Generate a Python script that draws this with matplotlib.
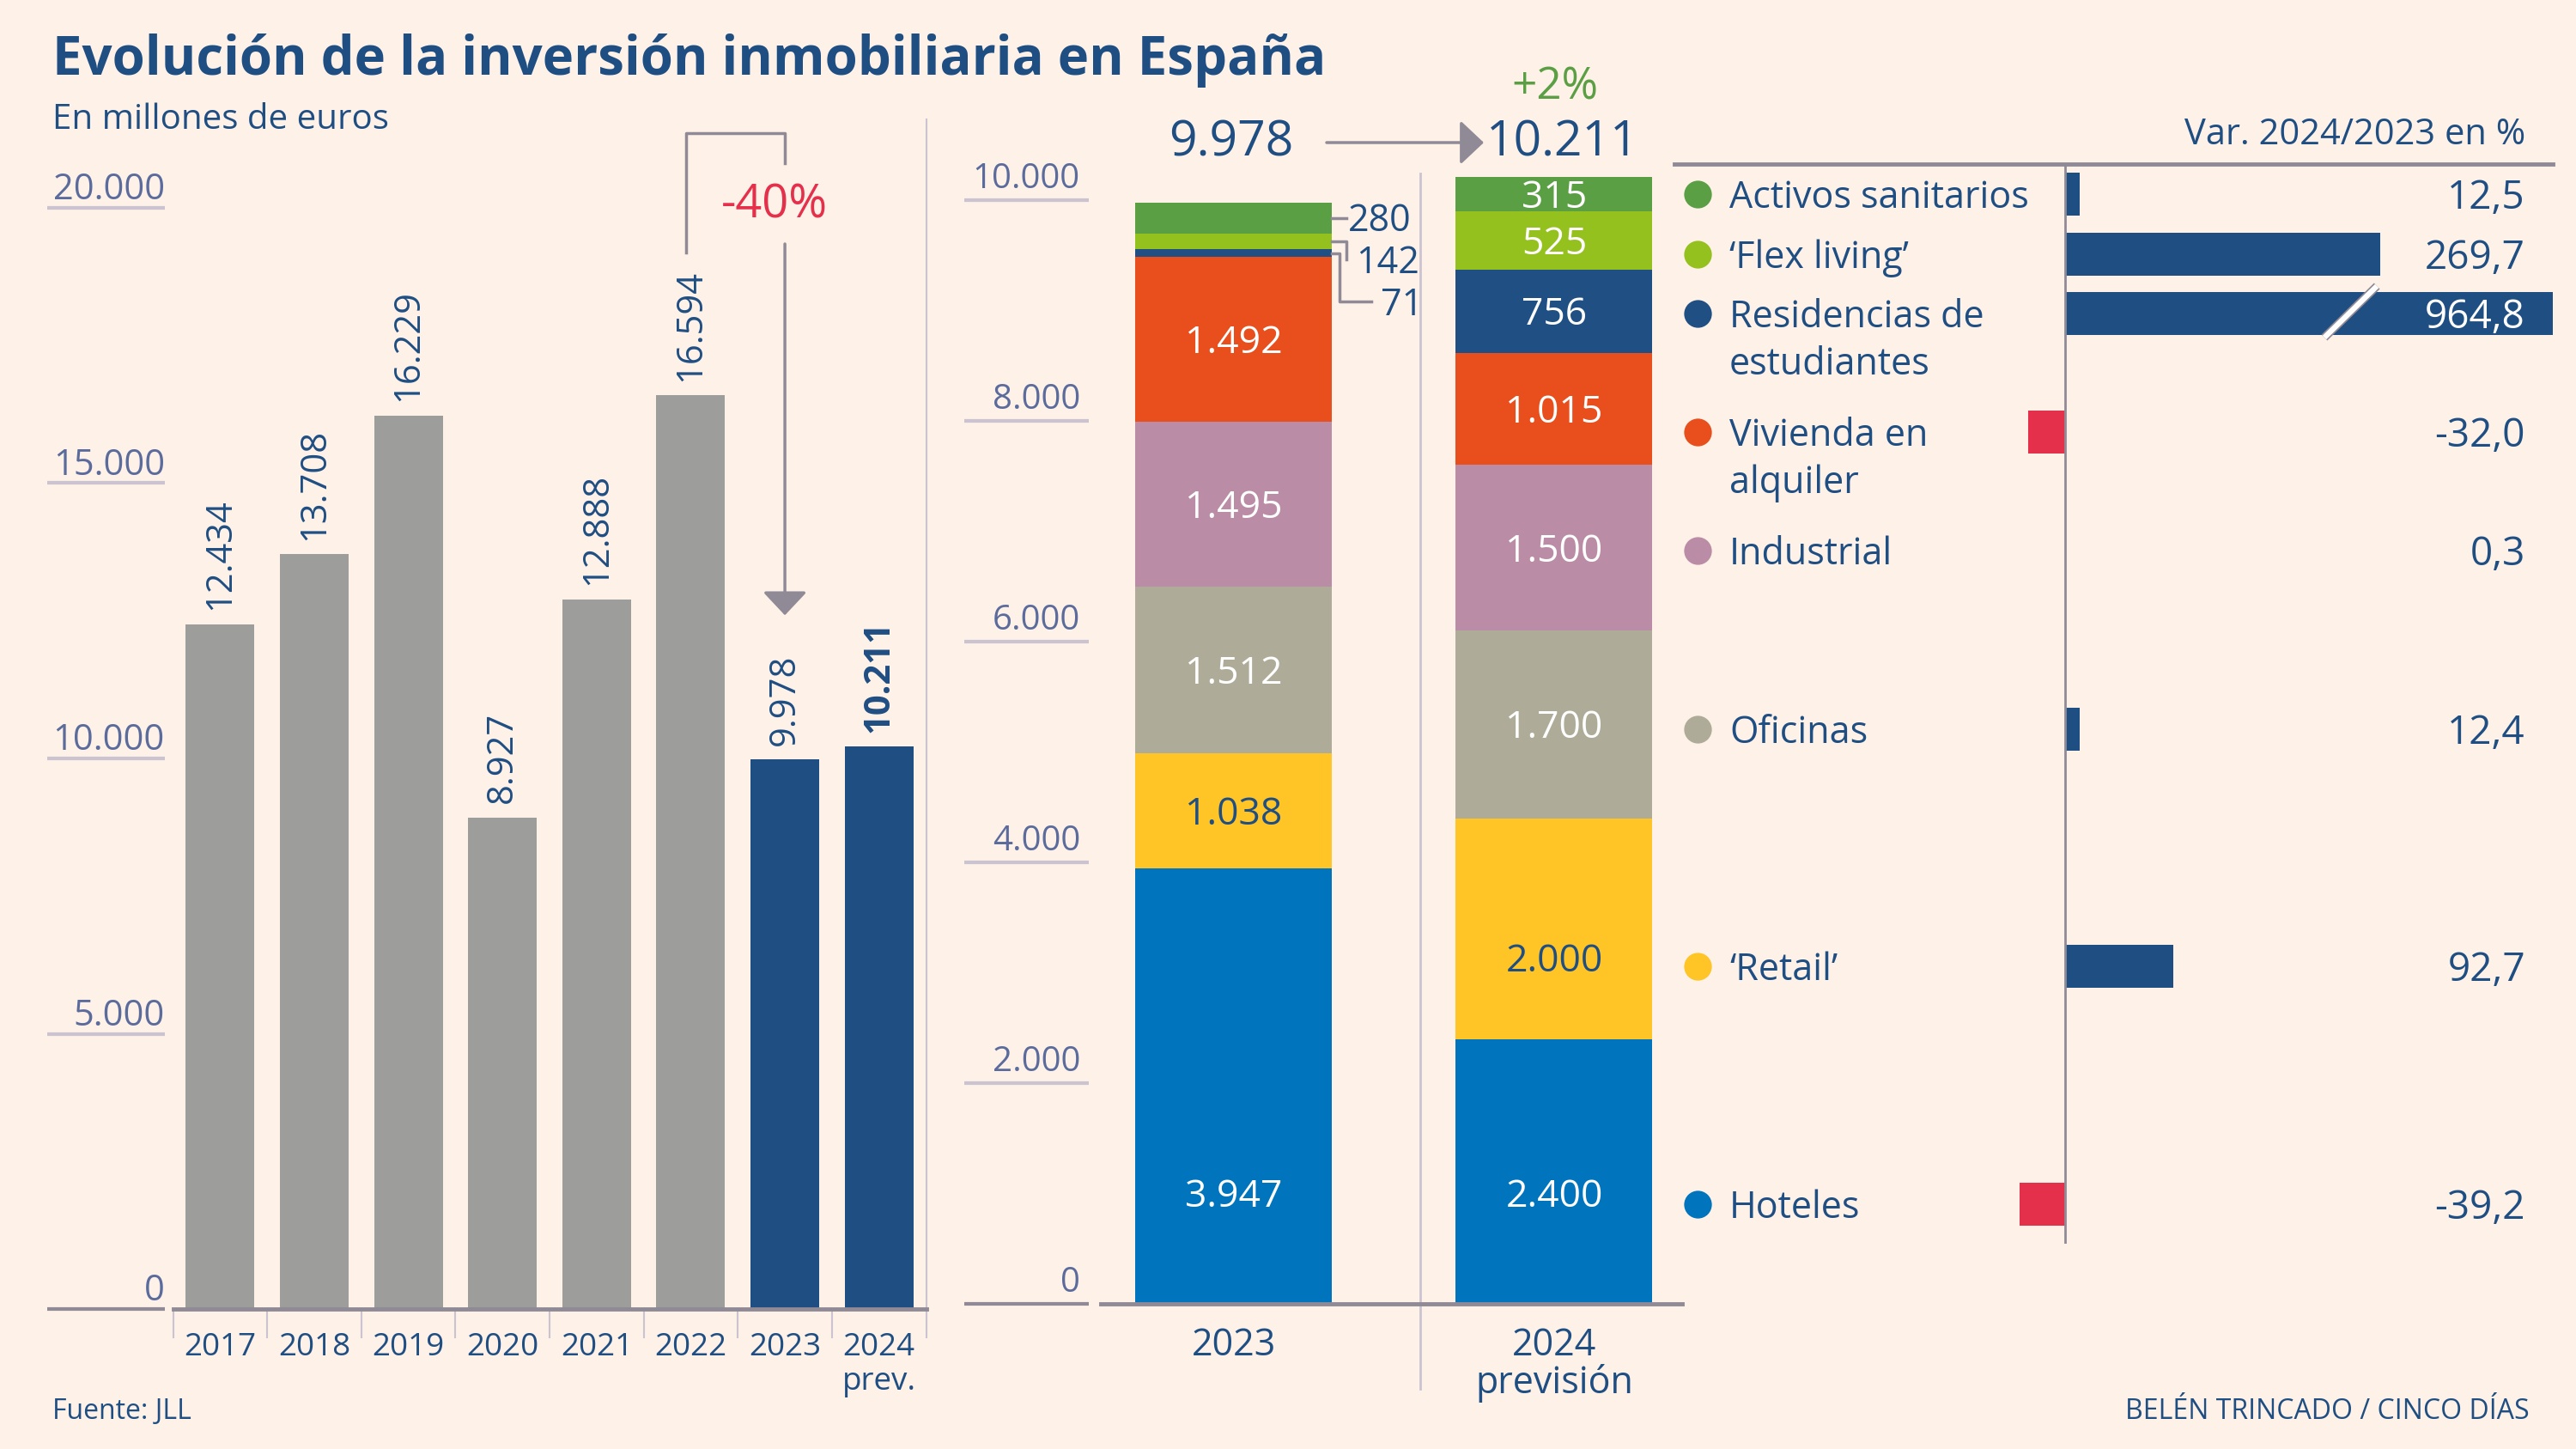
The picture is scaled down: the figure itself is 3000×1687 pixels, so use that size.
import matplotlib
matplotlib.use("Agg")
import matplotlib.pyplot as plt
from matplotlib.transforms import blended_transform_factory
import numpy as np

# ---- data ----
years = ["2017", "2018", "2019", "2020", "2021", "2022", "2023", "2024"]
year_notes = ["", "", "", "", "", "", "", "prev."]
investment = [12434, 13708, 16229, 8927, 12888, 16594, 9978, 10211]

# segments, bottom of the stack first
segments = ["Hoteles", "\u2018Retail\u2019", "Oficinas", "Industrial",
            "Vivienda en\nalquiler", "Residencias de\nestudiantes",
            "\u2018Flex living\u2019", "Activos sanitarios"]
seg_2023 = [3947, 1038, 1512, 1495, 1492, 71, 142, 280]
seg_2024 = [2400, 2000, 1700, 1500, 1015, 756, 525, 315]
var_pct = [-39.2, 92.7, 12.4, 0.3, -32.0, 964.8, 269.7, 12.5]
stack_years = ["2023", "2024"]
stack_notes = ["", "previsi\u00f3n"]

# ---- styles ----
BG = "#fdf1e8"
DARK = "#1f4e82"
GREY_BAR = "#9d9d9b"
TICK = "#5b6b9b"
GRID = "#cbc3d0"
BASE = "#8f8a96"
RED = "#e5304c"
GREEN = "#5b9f45"
seg_colors = ["#0074bc", "#ffc425", "#aeac98", "#bb8ca6",
              "#e84f1c", "#204f83", "#95c11f", "#5b9f45"]
seg_text = ["white", DARK, "white", "white", "white", "white", "white", "white"]
row_y = [1402, 1125, 849, 641, 503, 365, 296, 226]   # row centres, right panel (px)
label_shift = {(0, 0): -970, (1, 0): -196, (1, 1): -264}   # (bar, segment): nudge of label

plt.rcParams["font.family"] = ["Open Sans", "DejaVu Sans"]

W, H = 3000, 1687
fig = plt.figure(figsize=(W / 100, H / 100), dpi=100)
fig.patch.set_facecolor(BG)


def box(x0, y0, x1, y1):
    return [x0 / W, 1 - y1 / H, (x1 - x0) / W, (y1 - y0) / H]


def fx(px):
    return px / W


def fy(py):
    return 1 - py / H


def miles(v):
    return f"{v:,}".replace(",", ".")


def coma(v):
    return f"{v:.1f}".replace(".", ",")


# ---- titles ----
fig.text(fx(61), fy(87), "Evoluci\u00f3n de la inversi\u00f3n inmobiliaria en Espa\u00f1a",
         fontsize=44.5, fontweight="bold", color=DARK, ha="left", va="baseline")
fig.text(fx(61), fy(150), "En millones de euros", fontsize=29, color=DARK,
         ha="left", va="baseline")
fig.text(fx(61), fy(1652), "Fuente: JLL", fontsize=23, color=DARK, va="baseline")
fig.text(fx(2946), fy(1652), "BEL\u00c9N TRINCADO / CINCO D\u00cdAS", fontsize=23,
         color=DARK, ha="right", va="baseline")

# ---- left: yearly investment ----
ax1 = fig.add_axes(box(201.6, 242, 1078.5, 1524))
ax1.set_xlim(-0.5, 7.5)
ax1.set_ylim(0, 20000)
ax1.axis("off")
x = np.arange(len(years))
bar_cols = [GREY_BAR] * 6 + [DARK] * 2
ax1.bar(x, investment, width=0.73, color=bar_cols, zorder=2)
for xi, v in zip(x, investment):
    ax1.annotate(miles(v), (xi, v), xytext=(0, 12), textcoords="offset points",
                 rotation=90, ha="center", va="bottom", fontsize=30, color=DARK,
                 fontweight="bold" if xi == len(x) - 1 else "normal")
    ax1.annotate(years[xi], (xi, 0), xytext=(0, -39), textcoords="offset points",
                 ha="center", va="baseline", fontsize=26.5, color=DARK)
    if year_notes[xi]:
        ax1.annotate(year_notes[xi], (xi, 0), xytext=(0, -68), textcoords="offset points",
                     ha="center", va="baseline", fontsize=26.5, color=DARK)

t1 = ax1.get_yaxis_transform()
for t in [0, 5000, 10000, 15000, 20000]:
    ax1.plot([-0.167, -0.011], [t, t], transform=t1, clip_on=False,
             color=BASE if t == 0 else GRID, lw=3, solid_capstyle="butt")
    ax1.annotate(miles(t), (-0.011, t), xycoords=t1, xytext=(0, 7),
                 textcoords="offset points", ha="right", va="baseline",
                 fontsize=30, color=TICK)
ax1.plot([0, 1], [0, 0], transform=t1, clip_on=False, color=BASE, lw=3.5, zorder=3)
for i in range(len(x) + 1):
    top = 21600 if i == len(x) else 0
    ax1.plot([i - 0.5, i - 0.5], [top, -515], clip_on=False, color=GRID, lw=1.5, zorder=1)

# drop 2022 -> 2023
drop = investment[6] / investment[5] - 1
ax1.plot([4.95, 4.95, 6.0, 6.0], [19190, 21357, 21357, 20810], clip_on=False,
         color=BASE, lw=2.5)
ax1.annotate("", xy=(6.0, 12600), xytext=(6.0, 19345), annotation_clip=False,
             arrowprops=dict(arrowstyle="-|>,head_length=0.85,head_width=0.8",
                             mutation_scale=20, color=BASE, lw=2.5, shrinkA=0, shrinkB=0))
ax1.text(5.89, 20050, f"{drop * 100:.0f}%", ha="center", va="center",
         fontsize=39, color=RED)

# ---- middle: stacked by segment ----
ax2 = fig.add_axes(box(1282, 233, 1959, 1518))
ax2.set_xlim(-0.4155, 1.3995)
ax2.set_ylim(0, 10000)
ax2.axis("off")
bw = 0.614
for xi, vals in enumerate([seg_2023, seg_2024]):
    bottom = 0
    for k, v in enumerate(vals):
        ax2.bar(xi, v, bottom=bottom, width=bw, color=seg_colors[k], zorder=2,
                clip_on=False)
        mid = bottom + v / 2 + label_shift.get((xi, k), 0)
        if v >= 300:
            ax2.annotate(miles(v), (xi, mid), xytext=(0, -11.5), textcoords="offset points",
                         ha="center", va="baseline", fontsize=32,
                         color=seg_text[k], zorder=4, annotation_clip=False)
        bottom += v
    ax2.annotate(stack_years[xi], (xi, 0), xytext=(0, -43), textcoords="offset points",
                 ha="center", va="baseline", fontsize=31, color=DARK)
    if stack_notes[xi]:
        ax2.annotate(stack_notes[xi], (xi, 0), xytext=(0, -75), textcoords="offset points",
                     ha="center", va="baseline", fontsize=31, color=DARK)

# small 2023 segments labelled outside with leader lines
cum = np.cumsum([0] + seg_2023)
edge = bw / 2
outside = [(7, 0.351, 0.351, 0.357, 0), (6, 0.351, 0.351, 0.381, -165),
           (5, 0.330, 0.330, 0.458, -440)]
for k, xe, xd, xt, dy in outside:
    mid = cum[k] + seg_2023[k] / 2
    ty = mid + dy
    if dy == 0:
        ax2.plot([edge, xe], [mid, mid], color=BASE, lw=2.5, clip_on=False)
    else:
        ax2.plot([edge, xe, xd, xt - 0.03], [mid, mid, ty, ty], color=BASE, lw=2.5,
                 clip_on=False)
    ax2.annotate(miles(seg_2023[k]), (xt, ty), xytext=(0, -11), textcoords="offset points",
                 ha="left", va="baseline", fontsize=31, color=DARK, annotation_clip=False)

t2 = ax2.get_yaxis_transform()
for t in range(0, 10001, 2000):
    ax2.plot([-0.2349, -0.0207], [t, t], transform=t2, clip_on=False,
             color=BASE if t == 0 else GRID, lw=3, solid_capstyle="butt")
    ax2.annotate(miles(t), (-0.0355, t), xycoords=t2, xytext=(0, 10),
                 textcoords="offset points", ha="right", va="baseline",
                 fontsize=29, color=TICK)
ax2.plot([0, 1], [0, 0], transform=t2, clip_on=False, color=BASE, lw=3.5, zorder=3)
ax2.plot([0.583, 0.583], [10240, -770], clip_on=False, color=GRID, lw=2, zorder=1)

# totals header
growth = investment[7] / investment[6] - 1
fig.text(fx(1506), fy(182), miles(investment[6]), fontsize=41, color=DARK,
         ha="right", va="baseline")
fig.text(fx(1731), fy(182), miles(investment[7]), fontsize=41, color=DARK,
         ha="left", va="baseline")
fig.text(fx(1811), fy(115), f"{growth * 100:+.0f}%", fontsize=37, color=GREEN,
         ha="center", va="baseline")
fig.add_artist(matplotlib.patches.FancyArrowPatch(
    (fx(1545), fy(166)), (fx(1728), fy(166)), transform=fig.transFigure,
    arrowstyle="-|>,head_length=0.85,head_width=0.8", mutation_scale=20,
    color=BASE, lw=2.5, shrinkA=0, shrinkB=0))

# ---- right: variation 2024/2023 ----
ax3 = fig.add_axes(box(1950, 191, 2973, 1448))
ax3.set_xlim(-334.6, 417.6)
ax3.set_ylim(1448, 191)
ax3.axis("off")
ax3.barh(row_y, var_pct, height=50, color=[RED if v < 0 else DARK for v in var_pct],
         zorder=2)
ax3.axhline(191, color=BASE, lw=3.5, clip_on=False)
ax3.axvline(0, color=BASE, lw=2, zorder=3)
t3 = blended_transform_factory(ax3.transAxes, ax3.transData)
big = int(np.argmax(var_pct))
ax3.plot([222, 267], [row_y[big] + 28, row_y[big] - 32], color=BASE, lw=7,
         solid_capstyle="butt", zorder=3)
ax3.plot([222, 267], [row_y[big] + 28, row_y[big] - 32], color="white", lw=4.5,
         solid_capstyle="butt", zorder=4)
for k, name in enumerate(segments):
    y = row_y[k]
    ax3.scatter([0.0264], [y], s=540, color=seg_colors[k], transform=t3, clip_on=False,
                linewidths=0)
    for j, line in enumerate(name.split("\n")):
        ax3.text(0.0626, y + 16 + 55 * j, line, transform=t3, ha="left", va="baseline",
                 fontsize=31, color=DARK)
    ax3.text(0.9687, y + 17, coma(var_pct[k]), transform=t3, ha="right", va="baseline",
             fontsize=33, color="white" if k == big else DARK, zorder=5)
ax3.text(0.9687, 168, "Var. 2024/2023 en %", transform=t3, ha="right", va="baseline",
         fontsize=30, color=DARK)

fig.savefig("out.png", dpi=100, facecolor=BG)
